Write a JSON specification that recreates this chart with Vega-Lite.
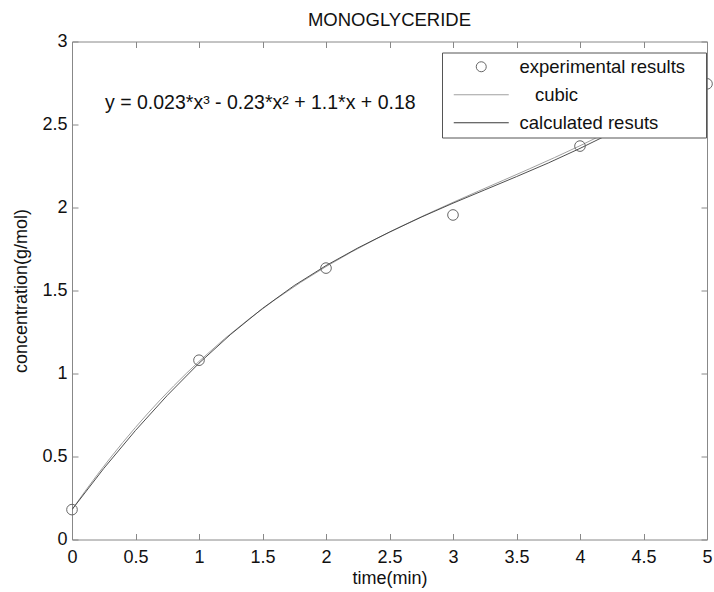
{
  "$schema": "https://vega.github.io/schema/vega-lite/v6.json",
  "width": 635,
  "height": 498,
  "autosize": {"type": "none"},
  "padding": {"left": 72, "top": 41.5, "right": 7, "bottom": 52.5},
  "background": "white",
  "title": {"text": "MONOGLYCERIDE", "fontSize": 18.5, "fontWeight": "normal", "font": "Liberation Sans", "color": "#111", "baseline": "bottom", "frame": "group", "anchor": "middle", "offset": 13, "dy": 29},
  "config": {
    "view": {"stroke": "#888", "strokeWidth": 1},
    "axis": {"grid": false, "domain": false, "tickColor": "#888", "tickSize": -6, "labelFont": "Liberation Sans", "labelFontSize": 18, "labelColor": "#111", "titleFont": "Liberation Sans", "titleFontSize": 18, "titleFontWeight": "normal", "titleColor": "#111", "format": "~g"},
    "legend": {"orient": "none", "legendX": 370, "legendY": 11, "strokeColor": "#555", "fillColor": "white", "padding": 5, "labelFont": "Liberation Sans", "labelFontSize": 18.5, "labelColor": "#111", "labelLimit": 400, "symbolSize": 100, "symbolStrokeWidth": 1, "rowPadding": 9, "symbolOffset": 25, "labelOffset": 29, "title": null}
  },
  "datasets": {
    "exp": [
      {"t": 0, "c": 0.18, "series": "experimental results\u00a0\u00a0\u00a0\u200b"},
      {"t": 1, "c": 1.08, "series": "experimental results\u00a0\u00a0\u00a0\u200b"},
      {"t": 2, "c": 1.635, "series": "experimental results\u00a0\u00a0\u00a0\u200b"},
      {"t": 3, "c": 1.955, "series": "experimental results\u00a0\u00a0\u00a0\u200b"},
      {"t": 4, "c": 2.37, "series": "experimental results\u00a0\u00a0\u00a0\u200b"},
      {"t": 5, "c": 2.745, "series": "experimental results\u00a0\u00a0\u00a0\u200b"}
    ],
    "cubic": [
      {"t": 0, "c": 0.18, "series": "\u200b\u00a0\u00a0\u00a0cubic"},
      {"t": 0.1, "c": 0.2877, "series": "\u200b\u00a0\u00a0\u00a0cubic"},
      {"t": 0.2, "c": 0.391, "series": "\u200b\u00a0\u00a0\u00a0cubic"},
      {"t": 0.3, "c": 0.4899, "series": "\u200b\u00a0\u00a0\u00a0cubic"},
      {"t": 0.4, "c": 0.5847, "series": "\u200b\u00a0\u00a0\u00a0cubic"},
      {"t": 0.5, "c": 0.6754, "series": "\u200b\u00a0\u00a0\u00a0cubic"},
      {"t": 0.6, "c": 0.7622, "series": "\u200b\u00a0\u00a0\u00a0cubic"},
      {"t": 0.7, "c": 0.8452, "series": "\u200b\u00a0\u00a0\u00a0cubic"},
      {"t": 0.8, "c": 0.9246, "series": "\u200b\u00a0\u00a0\u00a0cubic"},
      {"t": 0.9, "c": 1.0005, "series": "\u200b\u00a0\u00a0\u00a0cubic"},
      {"t": 1.0, "c": 1.073, "series": "\u200b\u00a0\u00a0\u00a0cubic"},
      {"t": 1.2, "c": 1.2085, "series": "\u200b\u00a0\u00a0\u00a0cubic"},
      {"t": 1.4, "c": 1.3323, "series": "\u200b\u00a0\u00a0\u00a0cubic"},
      {"t": 1.6, "c": 1.4454, "series": "\u200b\u00a0\u00a0\u00a0cubic"},
      {"t": 1.8, "c": 1.5489, "series": "\u200b\u00a0\u00a0\u00a0cubic"},
      {"t": 2.0, "c": 1.644, "series": "\u200b\u00a0\u00a0\u00a0cubic"},
      {"t": 2.2, "c": 1.7317, "series": "\u200b\u00a0\u00a0\u00a0cubic"},
      {"t": 2.4, "c": 1.8132, "series": "\u200b\u00a0\u00a0\u00a0cubic"},
      {"t": 2.6, "c": 1.8894, "series": "\u200b\u00a0\u00a0\u00a0cubic"},
      {"t": 2.8, "c": 1.9617, "series": "\u200b\u00a0\u00a0\u00a0cubic"},
      {"t": 3.0, "c": 2.031, "series": "\u200b\u00a0\u00a0\u00a0cubic"},
      {"t": 3.2, "c": 2.0985, "series": "\u200b\u00a0\u00a0\u00a0cubic"},
      {"t": 3.4, "c": 2.1652, "series": "\u200b\u00a0\u00a0\u00a0cubic"},
      {"t": 3.6, "c": 2.2323, "series": "\u200b\u00a0\u00a0\u00a0cubic"},
      {"t": 3.8, "c": 2.3009, "series": "\u200b\u00a0\u00a0\u00a0cubic"},
      {"t": 4.0, "c": 2.372, "series": "\u200b\u00a0\u00a0\u00a0cubic"},
      {"t": 4.2, "c": 2.4468, "series": "\u200b\u00a0\u00a0\u00a0cubic"},
      {"t": 4.4, "c": 2.5264, "series": "\u200b\u00a0\u00a0\u00a0cubic"},
      {"t": 4.6, "c": 2.6119, "series": "\u200b\u00a0\u00a0\u00a0cubic"},
      {"t": 4.8, "c": 2.7044, "series": "\u200b\u00a0\u00a0\u00a0cubic"},
      {"t": 5.0, "c": 2.805, "series": "\u200b\u00a0\u00a0\u00a0cubic"}
    ],
    "calc": [
      {"t": 0, "c": 0.18, "series": "calculated resuts"},
      {"t": 0.25, "c": 0.428, "series": "calculated resuts"},
      {"t": 0.5, "c": 0.657, "series": "calculated resuts"},
      {"t": 0.75, "c": 0.868, "series": "calculated resuts"},
      {"t": 1.0, "c": 1.062, "series": "calculated resuts"},
      {"t": 1.25, "c": 1.236, "series": "calculated resuts"},
      {"t": 1.5, "c": 1.392, "series": "calculated resuts"},
      {"t": 1.75, "c": 1.53, "series": "calculated resuts"},
      {"t": 2.0, "c": 1.65, "series": "calculated resuts"},
      {"t": 2.25, "c": 1.756, "series": "calculated resuts"},
      {"t": 2.5, "c": 1.852, "series": "calculated resuts"},
      {"t": 2.75, "c": 1.942, "series": "calculated resuts"},
      {"t": 3.0, "c": 2.026, "series": "calculated resuts"},
      {"t": 3.25, "c": 2.106, "series": "calculated resuts"},
      {"t": 3.5, "c": 2.186, "series": "calculated resuts"},
      {"t": 3.75, "c": 2.268, "series": "calculated resuts"},
      {"t": 4.0, "c": 2.356, "series": "calculated resuts"},
      {"t": 4.25, "c": 2.45, "series": "calculated resuts"},
      {"t": 4.5, "c": 2.552, "series": "calculated resuts"},
      {"t": 4.75, "c": 2.662, "series": "calculated resuts"},
      {"t": 5.0, "c": 2.78, "series": "calculated resuts"}
    ]
  },
  "layer": [
    {
      "data": {"name": "cubic"},
      "mark": {"type": "line", "strokeWidth": 1, "clip": true},
      "encoding": {
        "x": {"field": "t", "type": "quantitative", "scale": {"domain": [0, 5], "nice": false}, "axis": {"orient": "bottom", "title": "time(min)", "values": [0, 0.5, 1, 1.5, 2, 2.5, 3, 3.5, 4, 4.5, 5], "labelPadding": 15, "titlePadding": 3, "labelFlush": false}},
        "y": {"field": "c", "type": "quantitative", "scale": {"domain": [0, 3], "nice": false, "zero": false}, "axis": {"orient": "left", "title": "concentration(g/mol)", "values": [0, 0.5, 1, 1.5, 2, 2.5, 3], "labelPadding": 11, "titlePadding": 11, "labelFlush": false}},
        "color": {"field": "series", "type": "nominal", "scale": {"domain": ["experimental results\u00a0\u00a0\u00a0\u200b", "\u200b\u00a0\u00a0\u00a0cubic", "calculated resuts"], "range": ["#666666", "#a0a0a0", "#3a3a3a"]}}
      }
    },
    {
      "data": {"name": "calc"},
      "mark": {"type": "line", "strokeWidth": 0.9, "clip": true},
      "encoding": {
        "x": {"field": "t", "type": "quantitative", "axis": null},
        "y": {"field": "c", "type": "quantitative", "axis": null},
        "color": {"field": "series", "type": "nominal"}
      }
    },
    {
      "data": {"name": "exp"},
      "mark": {"type": "point", "filled": false, "strokeWidth": 1, "size": 113, "opacity": 1},
      "encoding": {
        "x": {"field": "t", "type": "quantitative", "axis": {"orient": "top", "title": null, "labels": false, "values": [0, 0.5, 1, 1.5, 2, 2.5, 3, 3.5, 4, 4.5, 5]}},
        "y": {"field": "c", "type": "quantitative", "axis": {"orient": "right", "title": null, "labels": false, "values": [0, 0.5, 1, 1.5, 2, 2.5, 3]}},
        "color": {"field": "series", "type": "nominal"},
        "shape": {"field": "series", "type": "nominal", "scale": {"domain": ["experimental results\u00a0\u00a0\u00a0\u200b", "\u200b\u00a0\u00a0\u00a0cubic", "calculated resuts"], "range": ["circle", "M-5.5,0L5.5,0", "M-5.5,0L5.5,0"]}}
      }
    },
    {
      "data": {"values": [{}]},
      "mark": {"type": "text", "align": "left", "baseline": "middle", "font": "Liberation Sans", "fontSize": 19.5, "color": "#111"},
      "encoding": {
        "x": {"datum": 0.26, "type": "quantitative", "axis": null},
        "y": {"datum": 2.63, "type": "quantitative", "axis": null},
        "text": {"value": "y = 0.023*x\u00b3 - 0.23*x\u00b2 + 1.1*x + 0.18"}
      }
    }
  ],
  "resolve": {"axis": {"x": "independent", "y": "independent"}}
}
